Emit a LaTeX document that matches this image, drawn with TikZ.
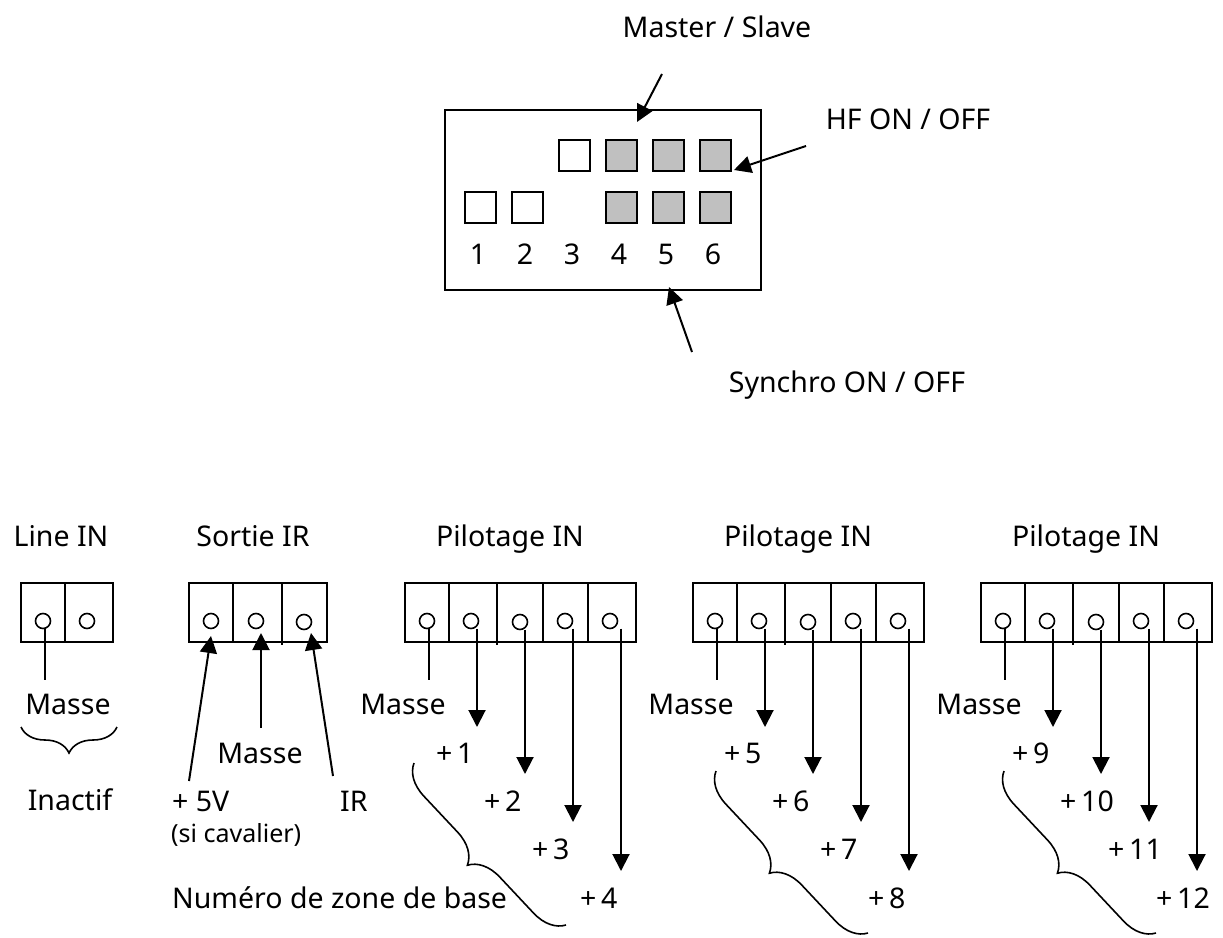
\documentclass[tikz,border=0pt]{standalone}
\usepackage{fontspec}
\setmainfont{Noto Sans}
\usetikzlibrary{arrows.meta,decorations.pathreplacing}
\definecolor{padgray}{HTML}{C0C0C0}
\tikzset{
    txt/.style = {inner sep=0pt, font=\fontsize{28.5}{34}\selectfont, text height=22pt, text depth=0pt},
    smalltxt/.style = {inner sep=0pt, font=\fontsize{25}{28}\selectfont},
    pad/.style = {draw, rectangle, line width=2pt, minimum size=31pt, inner sep=0pt, node distance=47pt},
    graypad/.style = {pad, fill=padgray},
    cell/.style = {draw, rectangle, line width=2pt, minimum height=59pt, inner sep=0pt, outer sep=0pt},
    screw/.style = {draw, circle, line width=1.6pt, minimum size=15pt, inner sep=0pt, outer sep=0pt},
    wire/.style = {draw, line width=2pt},
    arrow/.style = {draw, line width=2pt, -{Triangle[length=17pt,width=17pt]}},
    zonebrace/.style = {draw, line width=1.6pt, decorate, decoration={brace,mirror,amplitude=31pt}},
    inbrace/.style = {draw, line width=1.6pt, decorate, decoration={brace,mirror,amplitude=26pt}}
}

\begin{document}
\begin{tikzpicture}[x=1pt,y=-1pt,node distance=47pt]
    \useasboundingbox (0,0) rectangle (1223,937);

    \node [draw, rectangle, line width=2pt, minimum width=316pt, minimum height=180pt, outer sep=0pt] (switchbox) at (603,200) {};
    \node [pad] (sw1) at (480,207) {};
    \node [pad,right of=sw1] (sw2) {};
    \node [pad] (sw3) at (574,155) {};
    \node [graypad,right of=sw3] (top4) {};
    \node [graypad,right of=top4] (top5) {};
    \node [graypad,right of=top5] (top6) {};
    \node [graypad,below of=top4,node distance=52pt] (sw4) {};
    \node [graypad,right of=sw4] (sw5) {};
    \node [graypad,right of=sw5] (sw6) {};
    \node [txt] (num1) at (478,253) {1};
    \node [txt,right of=num1] (num2) {2};
    \node [txt,right of=num2] (num3) {3};
    \node [txt,right of=num3] (num4) {4};
    \node [txt,right of=num4] (num5) {5};
    \node [txt,right of=num5] (num6) {6};

    \node [txt] (master) at (717,26) {Master / Slave};
    \node [txt] (hf) at (908,118) {HF ON / OFF};
    \node [txt] (synchro) at (847,381) {Synchro ON / OFF};
    \coordinate (mastertail) at (662,74);
    \coordinate (masterhead) at (637,122);
    \coordinate (hftail) at (806,146);
    \coordinate (hfhead) at (734,170);
    \coordinate (synchrotail) at (692,352);
    \coordinate (synchrohead) at (669,287);
    \draw [arrow] (mastertail) -- (masterhead);
    \draw [arrow] (hftail) -- (hfhead);
    \draw [arrow] (synchrotail) -- (synchrohead);

    \node [txt] (linetitle) at (61,535) {Line IN};
    \node [cell,minimum width=44pt] (line1) at (43,612.5) {};
    \node [cell,minimum width=48pt,right of=line1,node distance=46pt] (line2) {};
    \node [screw] (linescrew1) at (43,621) {};
    \node [screw] (linescrew2) at (87,621) {};
    \coordinate (linewire) at (45,680);
    \draw [wire] (linescrew1.south -| linewire) -- (linewire);
    \node [txt] (linemasse) at (68,703) {Masse};
    \coordinate (bracestart) at (21,727);
    \coordinate (braceend) at (117,727);
    \draw [inbrace] (bracestart) -- (braceend);
    \node [txt] (inactif) at (70,799) {Inactif};

    \node [txt] (sortietitle) at (253,535) {Sortie IR};
    \node [cell,minimum width=44pt] (sortie1) at (211,612.5) {};
    \node [cell,minimum width=49pt,right of=sortie1,node distance=46.5pt] (sortie2) {};
    \node [cell,minimum width=45pt,right of=sortie2,node distance=47pt] (sortie3) {};
    \node [screw] (sortiescrew1) at (211,621) {};
    \node [screw] (sortiescrew2) at (256,621) {};
    \node [screw] (sortiescrew3) at (304,622) {};
    \draw [wire] (sortie2.south east) -- ++(0,3);
    \node [txt] (sortiemasse) at (260,752) {Masse};
    \node [txt,anchor=west] (plusfive) at (172,800) {+ 5V};
    \node [smalltxt,anchor=west] (cavalier) at (171,835) {(si cavalier)};
    \node [txt,anchor=west] (irlabel) at (340,800) {IR};
    \coordinate (fivetail) at (189,781);
    \coordinate (fivehead) at (211,636);
    \coordinate (massetail) at (261,728);
    \coordinate (massehead) at (261,633);
    \coordinate (irtail) at (333,776);
    \coordinate (irhead) at (311,633);
    \draw [arrow] (fivetail) -- (fivehead);
    \draw [arrow] (massetail) -- (massehead);
    \draw [arrow] (irtail) -- (irhead);

    \foreach \g/\ox/\bx/\za/\zb/\zc/\zd in {1/0/0/1/2/3/4,2/288/14/5/6/7/8,3/576/14/9/10/11/12} {
        \begin{scope}[xshift=\ox pt]
            \node [txt] (title\g) at (510,535) {Pilotage IN};
            \node [cell,minimum width=44pt] (cell\g a) at (427,612.5) {};
            \node [cell,minimum width=48pt,right of=cell\g a,node distance=46pt] (cell\g b) {};
            \node [cell,minimum width=46pt,right of=cell\g b,node distance=47pt] (cell\g c) {};
            \node [cell,minimum width=45pt,right of=cell\g c,node distance=45.5pt] (cell\g d) {};
            \node [cell,minimum width=48pt,right of=cell\g d,node distance=46.5pt] (cell\g e) {};
            \draw [wire] (cell\g b.south east) -- ++(0,3);
            \node [screw] (screw\g a) at (427,621) {};
            \node [screw] (screw\g b) at (471,621) {};
            \node [screw] (screw\g c) at (520,622) {};
            \node [screw] (screw\g d) at (565,621) {};
            \node [screw] (screw\g e) at (610,621) {};
            \coordinate (wire\g) at (429,680);
            \coordinate (tip\g b) at (477,727);
            \coordinate (tip\g c) at (525,774);
            \coordinate (tip\g d) at (573,822);
            \coordinate (tip\g e) at (621,871);
            \draw [wire] (screw\g a.south -| wire\g) -- (wire\g);
            \draw [arrow] (screw\g b.south -| tip\g b) -- (tip\g b);
            \draw [arrow] (screw\g c.south -| tip\g c) -- (tip\g c);
            \draw [arrow] (screw\g d.south -| tip\g d) -- (tip\g d);
            \draw [arrow] (screw\g e.south -| tip\g e) -- (tip\g e);
            \node [txt] (masse\g) at (403,703) {Masse};
            \node [txt,anchor=west] (zone\g a) at (436,752) {+\,\za};
            \node [txt,anchor=west] (zone\g b) at (484,800) {+\,\zb};
            \node [txt,anchor=west] (zone\g c) at (532,848) {+\,\zc};
            \node [txt,anchor=west] (zone\g d) at (580,897) {+\,\zd};
        \end{scope}
        \coordinate (zonestart\g) at (414+\ox+\bx,763+\bx*8/14);
        \coordinate (zoneend\g) at (566+\ox+\bx,925+\bx*8/14);
        \draw [zonebrace] (zonestart\g) -- (zoneend\g);
    }
    \node [txt,anchor=west] (zonetitle) at (172,897) {Numéro de zone de base};
\end{tikzpicture}
\end{document}
